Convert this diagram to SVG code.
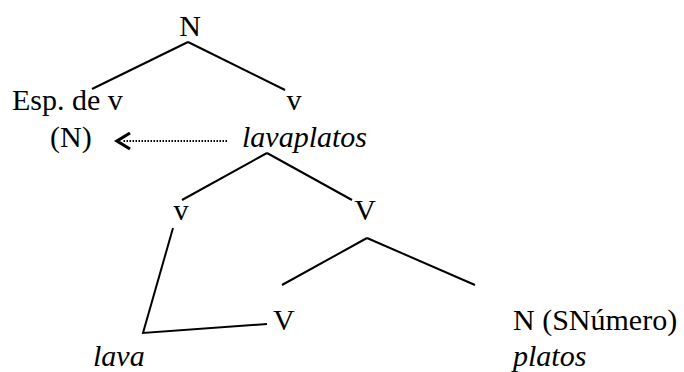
<svg xmlns="http://www.w3.org/2000/svg" width="684" height="372" viewBox="0 0 684 372">
<style>
text{font-family:'Liberation Serif','Times New Roman',serif;font-size:30px;fill:#000}
.it{font-style:italic}
.ln{stroke:#000;stroke-width:2;fill:none}
</style>
<rect width="684" height="372" fill="#fff"/>
<g id="connectors">
<line class="ln" x1="188" y1="42" x2="92" y2="89"/>
<line class="ln" x1="188" y1="42" x2="285" y2="90"/>
<line class="ln" x1="267" y1="153" x2="182" y2="200"/>
<line class="ln" x1="267" y1="153" x2="352" y2="200"/>
<polyline class="ln" points="173,228 143,333 267,324"/>
<line class="ln" x1="367" y1="238" x2="282" y2="285"/>
<line class="ln" x1="367" y1="238" x2="475" y2="285"/>
<line x1="227" y1="141" x2="122" y2="141" stroke="#000" stroke-width="2" stroke-dasharray="1.5 1.5"/>
<polyline points="130,133 117,141 130,149" stroke="#000" stroke-width="3.2" fill="none"/>
</g>
<g id="n-root"><text x="190" y="36" text-anchor="middle">N</text></g>
<g id="n-esp"><text x="12" y="110">Esp. de v</text></g>
<g id="n-v1"><text x="294" y="110" text-anchor="middle">v</text></g>
<g id="n-N"><text x="50" y="147">(N)</text></g>
<g id="n-lavaplatos"><text x="242" y="147" class="it">lavaplatos</text></g>
<g id="n-v2"><text x="181" y="220" text-anchor="middle">v</text></g>
<g id="n-V1"><text x="365" y="220" text-anchor="middle">V</text></g>
<g id="n-V2"><text x="273" y="330">V</text></g>
<g id="n-Nnum"><text x="513" y="330">N (SNúmero)</text></g>
<g id="n-lava"><text x="93" y="366" class="it">lava</text></g>
<g id="n-platos"><text x="513" y="366" class="it">platos</text></g>
</svg>
